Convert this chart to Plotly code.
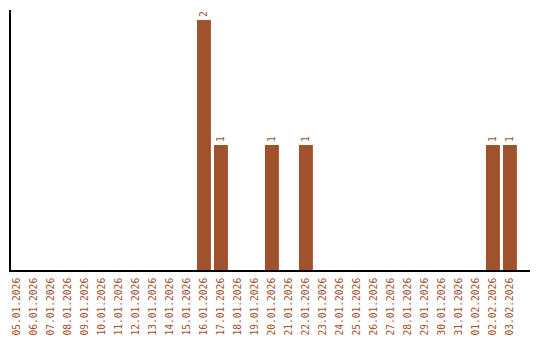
import plotly.graph_objects as go

dates = ["05.01.2026","06.01.2026","07.01.2026","08.01.2026","09.01.2026","10.01.2026",
         "11.01.2026","12.01.2026","13.01.2026","14.01.2026","15.01.2026","16.01.2026",
         "17.01.2026","18.01.2026","19.01.2026","20.01.2026","21.01.2026","22.01.2026",
         "23.01.2026","24.01.2026","25.01.2026","26.01.2026","27.01.2026","28.01.2026",
         "29.01.2026","30.01.2026","31.01.2026","01.02.2026","02.02.2026","03.02.2026"]
values = [0,0,0,0,0,0,0,0,0,0,0,2,1,0,0,1,0,1,0,0,0,0,0,0,0,0,0,0,1,1]
labels = [str(v) if v else "" for v in values]

color = "#a0522d"
font = dict(family="DejaVu Sans Mono", size=9.6, color=color)

fig = go.Figure(go.Bar(
    x=dates, y=values, marker_color=color, marker_line_width=0,
    text=labels, textposition="outside", textangle=-90,
    textfont=font, cliponaxis=False,
))
fig.update_layout(
    width=540, height=340, margin=dict(l=11, r=10, t=10, b=70, autoexpand=False),
    plot_bgcolor="white", paper_bgcolor="white", bargap=0.18,
    showlegend=False, font=font,
)
fig.update_xaxes(showline=True, linecolor="black", linewidth=2, tickangle=-90,
                 tickfont=font, ticks="", showgrid=False, range=[-0.35, 30.18],
                 ticklabelstandoff=2, automargin=False)
fig.update_yaxes(showline=True, linecolor="black", linewidth=2, range=[0, 2.08],
                 showticklabels=False, ticks="", showgrid=False, zeroline=False,
                 automargin=False)
fig.write_html("out.html")
